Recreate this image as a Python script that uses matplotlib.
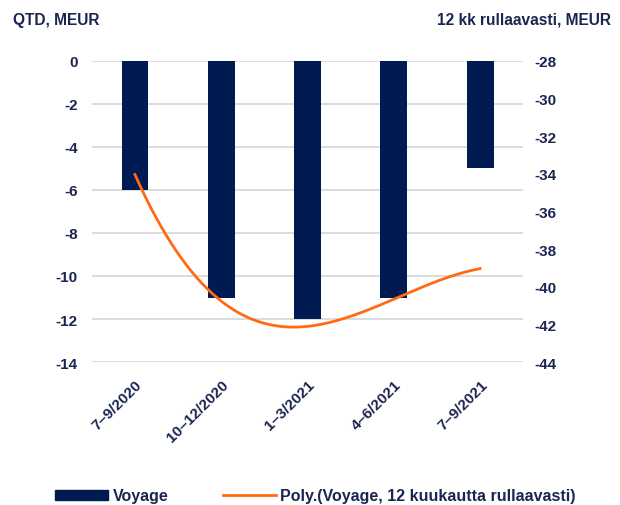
import numpy as np
import matplotlib
matplotlib.use("Agg")
import matplotlib.pyplot as plt
from matplotlib.lines import Line2D
from matplotlib.patches import Patch

categories = ["7–9/2020", "10–12/2020", "1–3/2021", "4–6/2021", "7–9/2021"]
voyage_qtd = [-6, -11, -12, -11, -5]
trend_12m = [-34.0, -40.9, -41.9, -40.8, -39.0]
left_ticks = [0, -2, -4, -6, -8, -10, -12, -14]
right_ticks = [-28, -30, -32, -34, -36, -38, -40, -42, -44]

NAVY = "#001a52"
TEXT = "#1b2550"
ORANGE = "#ff6a13"

plt.rcParams['font.family'] = ['Liberation Sans', 'DejaVu Sans']
plt.rcParams['font.weight'] = 'bold'

fig = plt.figure(figsize=(6.2, 5.06), dpi=100)
ax = fig.add_axes([0.148, 0.2826, 0.696, 0.5949])
x = np.arange(len(categories))
ax.bar(x, voyage_qtd, width=0.31, color=NAVY, zorder=3)
ax.set_xlim(-0.5, len(categories) - 0.5)
ax.set_ylim(-14, 0)
ax.set_yticks(left_ticks)
ax.set_yticklabels([str(v) for v in left_ticks])
ax.yaxis.grid(True, color="#d9d9d9", linewidth=1.3, zorder=0)
ax.set_axisbelow(True)
for s in ax.spines.values():
    s.set_visible(False)
ax.tick_params(axis='y', length=0, pad=10, labelsize=11, labelcolor=TEXT)
ax.tick_params(axis='x', length=0, pad=11, labelsize=11, labelcolor=TEXT)
ax.set_xticks(x)
ax.set_xticklabels(categories, rotation=45, ha='right', rotation_mode='anchor', fontweight='bold')

ax2 = ax.twinx()
ax2.set_ylim(-44, -28)
ax2.set_yticks(right_ticks)
ax2.set_yticklabels([str(v) for v in right_ticks])
for s in ax2.spines.values():
    s.set_visible(False)
ax2.tick_params(axis='y', length=0, pad=8, labelsize=11, labelcolor=TEXT)
coef = np.polyfit(x, trend_12m, 3)
xs = np.linspace(x[0], x[-1], 200)
ax2.plot(xs, np.polyval(coef, xs), color=ORANGE, linewidth=2, zorder=4)

fig.text(13/620, 1 - 20/506, "QTD, MEUR", fontsize=11.2, fontweight='bold', color=TEXT, va='center', ha='left')
fig.text(611/620, 1 - 20/506, "12 kk rullaavasti, MEUR", fontsize=11.2, fontweight='bold', color=TEXT, va='center', ha='right')

handles = [Patch(color=NAVY), Line2D([0], [0], color=ORANGE, linewidth=2)]
fig.legend(handles, ["Voyage", "Poly.(Voyage, 12 kuukautta rullaavasti)"],
           loc='center left', bbox_to_anchor=(41/620, 1 - 497/506), ncol=2, frameon=False,
           fontsize=11.5, handlelength=3.3, handleheight=0.55, columnspacing=3.4, handletextpad=0.3,
           labelcolor=TEXT)

fig.savefig("out.png", dpi=100)
